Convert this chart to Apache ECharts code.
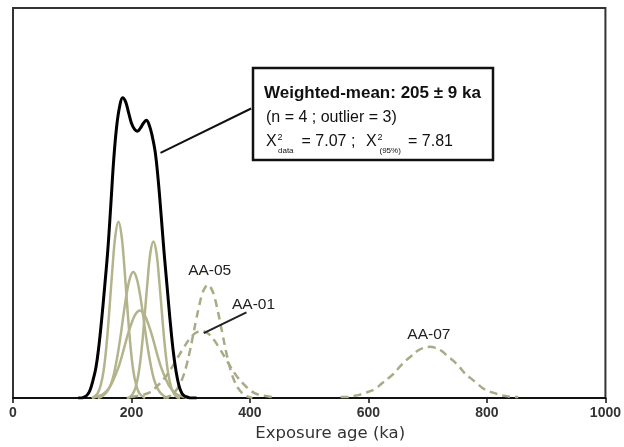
<!DOCTYPE html>
<html><head><meta charset="utf-8">
<script src="https://cdn.jsdelivr.net/npm/echarts@6/dist/echarts.min.js"></script>
<style>html,body{margin:0;padding:0;background:#fff;overflow:hidden}#c{width:624px;height:447px}</style>
</head><body><div id="c"></div>
<script>
// Exposure-age probability curves (ka vs relative density)
const xTicks = [0, 200, 400, 600, 800, 1000];

const ageA = [133,138,143,148,153,158,163,168,173,178,183,188,193,198,203,208,213,218,223];
const probA = [0,2,5,13,28,55,92,133,166,179,166,133,92,55,28,13,5,2,0];

const ageB = [143,148,153,158,163,168,173,178,183,188,193,198,203,208,213,218,223,228,233,238,243,248,253,258,263];
const probB = [0,1,3,6,11,19,32,49,69,91,110,123,128,123,110,91,69,49,32,19,11,6,3,1,0];

const ageC = [134,139,144,149,154,159,164,169,174,179,184,189,194,199,204,209,214,219,224,229,234,239,244,249,254,259,264,269,274,279,284,289,294];
const probC = [0,1,2,3,5,8,12,18,25,33,43,54,65,74,82,87,89,87,82,74,65,54,43,33,25,18,12,8,5,3,2,1,0];

const ageD = [192,197,202,207,212,217,222,227,232,237,242,247,252,257,262,267,272,277,282];
const probD = [0,1,4,11,25,49,82,118,148,159,148,118,82,49,25,11,4,1,0];

const ageSum = [110,115,120,125,130,135,140,145,150,155,160,165,170,175,180,185,190,195,200,205,210,215,220,225,230,235,240,245,250,255,260,265,270,275,280,285,290,295,300,305,310];
const probSum = [0,0,1,3,8,18,31,53,82,115,150,195,242,276,296,305,301,290,279,273,271,274,279,282,277,266,250,222,186,148,114,80,50,28,13,5,2,1,0,0,0];

const ageAA05 = [254,259,264,269,274,279,284,289,294,299,304,309,314,319,324,329,334,339,344,349,354,359,364,369,374,379,384,389,394,399,404];
const probAA05 = [0,1,2,4,7,11,17,25,36,49,64,79,93,105,112,115,112,105,93,79,64,49,36,25,17,11,7,4,2,1,0];

const ageAA01 = [198,208,218,228,238,248,258,268,278,288,298,308,318,328,338,348,358,368,378,388,398,408,418,428,438];
const probAA01 = [1,2,3,5,9,15,22,31,41,51,60,66,68,66,60,51,41,31,22,15,9,5,3,2,1];

const ageAA07 = [553,563,573,583,593,603,613,623,633,643,653,663,673,683,693,703,713,723,733,743,753,763,773,783,793,803,813,823,833,843,853];
const probAA07 = [1,1,2,3,5,7,10,15,20,25,32,38,43,48,51,52,51,48,43,38,32,25,20,15,10,7,5,3,2,1,1];

const sampleLabels = ['AA-05', 'AA-01', 'AA-07'];
const labelAnchors = [[332, 129], [406, 95], [702, 64]];

const zip = (xs, ys) => xs.map((x, i) => [x, ys[i]]);

const olive = '#b3b48c';
const dashCol = '#a9aa86';

function solid(name, xs, ys) {
  return { name, type: 'line', data: zip(xs, ys), showSymbol: false, smooth: 0.4,
    lineStyle: { color: olive, width: 2.5 }, z: 2 };
}
function dashed(name, xs, ys) {
  return { name, type: 'line', data: zip(xs, ys), showSymbol: false, smooth: 0.4,
    lineStyle: { color: dashCol, width: 2.5, type: [8, 5] }, z: 3 };
}

const chart = echarts.init(document.getElementById('c'), null, { renderer: 'canvas' });
chart.setOption({
  animation: false,
  backgroundColor: '#fff',
  grid: { left: 13, right: 15, top: 8, bottom: 43, show: true, borderColor: '#333', borderWidth: 2, backgroundColor: 'transparent' },
  xAxis: {
    type: 'value', min: xTicks[0], max: xTicks[xTicks.length - 1], interval: 200,
    name: 'Exposure age (ka)', nameLocation: 'middle', nameGap: 25,
    nameTextStyle: { fontFamily: 'DejaVu Sans', fontSize: 16.5, color: '#333', padding: [0, 0, 0, 42] },
    axisLine: { lineStyle: { color: '#111', width: 2 } },
    axisTick: { show: true, inside: false, length: 5, lineStyle: { color: '#111', width: 1.5 } },
    axisLabel: { fontFamily: '"Liberation Sans", Arial, sans-serif', fontWeight: 'bold', fontSize: 14, color: '#333', margin: 8,
      formatter: v => String(v) },
    splitLine: { show: false }
  },
  yAxis: { type: 'value', min: 0, max: 396, show: false, splitLine: { show: false } },
  series: [
    solid('AA-a', ageA, probA),
    solid('AA-b', ageB, probB),
    solid('AA-c', ageC, probC),
    solid('AA-d', ageD, probD),
    dashed('AA-05', ageAA05, probAA05),
    Object.assign(dashed('AA-01', ageAA01, probAA01), {
      markLine: { silent: true, symbol: ['none', 'none'], label: { show: false },
        lineStyle: { color: '#222', width: 2, type: 'solid' },
        data: [[{ coord: [322, 66] }, { coord: [394, 87] }]] }
    }),
    dashed('AA-07', ageAA07, probAA07),
    { name: 'Sum', type: 'line', data: zip(ageSum, probSum), showSymbol: false, smooth: 0.4,
      lineStyle: { color: '#000', width: 3 }, z: 5,
      markLine: { silent: true, symbol: ['none', 'none'], label: { show: false },
        lineStyle: { color: '#111', width: 2, type: 'solid' },
        data: [[{ coord: [249, 249] }, { coord: [402, 294] }]] } }
  ]
});

// annotation panel and sample labels
const g = [];
g.push({ type: 'rect', shape: { x: 253, y: 68, width: 240, height: 92 },
  style: { fill: '#fff', stroke: '#111', lineWidth: 2.5 }, z: 100 });
const F = '"Liberation Sans", Arial, sans-serif';
function t(text, x, y, size, weight) {
  g.push({ type: 'text', z: 101, style: { text, x, y, fill: '#111', verticalAlign: 'middle',
    font: (weight || 'normal') + ' ' + size + 'px ' + F } });
}
t('Weighted-mean: 205 \u00b1 9 ka', 264, 93, 17, 'bold');
t('(n = 4 ; outlier = 3)', 266, 118, 16);
t('X', 266, 142, 16);
t('2', 277.5, 137.5, 9);
t('data', 278, 151, 8);
t('= 7.07 ;', 301.5, 142, 16);
t('X', 366, 142, 16);
t('2', 377.5, 137.5, 9);
t('(95%)', 379.5, 151, 8);
t('= 7.81', 408, 142, 16);

sampleLabels.forEach((s, i) => {
  const p = chart.convertToPixel({ gridIndex: 0 }, labelAnchors[i]);
  g.push({ type: 'text', z: 50, style: { text: s, x: p[0], y: p[1], align: 'center', verticalAlign: 'middle',
    fill: '#222', font: '15.5px ' + F } });
});
chart.setOption({ graphic: g });
</script>
</body></html>
